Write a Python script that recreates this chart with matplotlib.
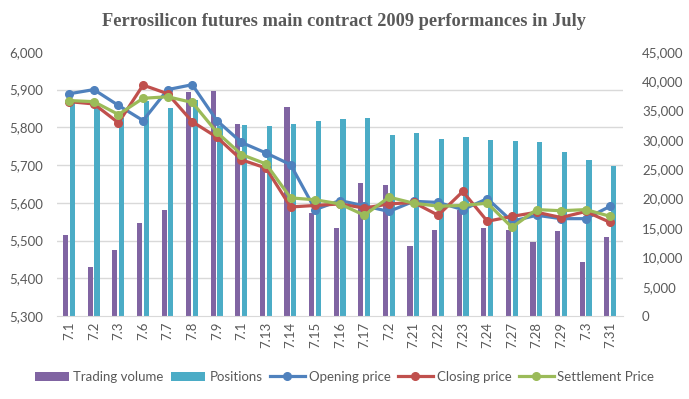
import numpy as np
import matplotlib
matplotlib.use("Agg")
import matplotlib.pyplot as plt
from matplotlib.ticker import FuncFormatter

# === Data ===
dates = ["7.1", "7.2", "7.3", "7.6", "7.7", "7.8", "7.9", "7.1", "7.13", "7.14", "7.15", "7.16",
         "7.17", "7.2", "7.21", "7.22", "7.23", "7.24", "7.27", "7.28", "7.29", "7.3", "7.31"]
volume = [13860, 8410, 11300, 15900, 18100, 38240, 38400, 32780, 25800, 35680, 17500, 15060,
          22730, 22390, 11990, 14720, 18000, 15060, 14720, 12670, 14550, 9260, 13520]
positions = [36300, 35740, 33750, 36590, 35510, 36880, 32330, 32610, 32440, 32780, 33300, 33640,
             33810, 30910, 31250, 30230, 30570, 30070, 29890, 29720, 28010, 26650, 25630]
opening = [5889, 5900, 5858, 5818, 5900, 5913, 5818, 5760, 5732, 5701, 5582, 5606,
           5592, 5577, 5604, 5601, 5582, 5611, 5551, 5567, 5558, 5558, 5591]
closing = [5868, 5862, 5812, 5912, 5889, 5815, 5774, 5714, 5692, 5589, 5593, 5597,
           5586, 5597, 5601, 5567, 5630, 5551, 5564, 5575, 5561, 5577, 5548]
settlement = [5871, 5868, 5834, 5877, 5881, 5866, 5787, 5728, 5703, 5613, 5608, 5597,
              5567, 5615, 5599, 5591, 5593, 5599, 5535, 5582, 5579, 5582, 5564]

c_vol, c_pos = "#8064A2", "#4BACC6"
c_open, c_close, c_settle = "#4F81BD", "#C0504D", "#9BBB59"
txt = "#595959"

plt.rcParams["font.family"] = ["Lato", "DejaVu Sans"]

fig = plt.figure(figsize=(6.89, 3.99), dpi=100)
ax = fig.add_axes([0.0827, 0.208, 0.821, 0.662])  # bars, right scale
ax2 = ax.twinx()  # prices, left scale

x = np.arange(len(dates))
w = 0.21
ax.bar(x - 0.145, volume, w, color=c_vol, label="Trading volume", zorder=2)
ax.bar(x + 0.13, positions, w, color=c_pos, label="Positions", zorder=2)
ax.set_ylim(0, 45000)
ax.set_xlim(-0.5, len(dates) - 0.5)
ax.yaxis.tick_right()
ax.set_yticks(np.arange(0, 45001, 5000))
ax.yaxis.set_major_formatter(FuncFormatter(lambda v, p: f"{int(v):,}"))
# gridlines follow the price axis (7 intervals)
ax.set_yticks(np.linspace(0, 45000, 8), minor=True)
ax.grid(which="minor", axis="y", color="#D9D9D9", lw=1, zorder=0)
ax.set_axisbelow(True)

for name, vals, col in [("Opening price", opening, c_open),
                        ("Closing price", closing, c_close),
                        ("Settlement Price", settlement, c_settle)]:
    ax2.plot(x, vals, color=col, lw=2.3, marker="o", ms=5.5, label=name, zorder=3)
ax2.set_ylim(5300, 6000)
ax2.yaxis.tick_left()
ax2.set_yticks(np.arange(5300, 6001, 100))
ax2.yaxis.set_major_formatter(FuncFormatter(lambda v, p: f"{int(v):,}"))

ax.set_xticks(x)
ax.set_xticklabels(dates, rotation=90, va="top")

for a in (ax, ax2):
    for s in a.spines.values():
        s.set_visible(False)
    a.tick_params(length=0, colors=txt, labelsize=9.5)
ax.spines["bottom"].set_visible(True)
ax.spines["bottom"].set_color("#D9D9D9")
ax.tick_params(axis="y", which="both", length=0, pad=14)
ax2.tick_params(axis="y", pad=10)
ax.tick_params(axis="x", pad=4)

fig.text(0.5, 0.945, "Ferrosilicon futures main contract 2009 performances in July",
         ha="center", va="center", fontsize=13.2, fontweight="bold", color=txt,
         family="Liberation Serif")

h1, l1 = ax.get_legend_handles_labels()
h2, l2 = ax2.get_legend_handles_labels()
fig.legend(h1 + h2, l1 + l2, loc="center", bbox_to_anchor=(0.5, 0.055), ncol=5,
           frameon=False, fontsize=9.5, handlelength=2.6, handletextpad=0.3,
           columnspacing=0.6, labelcolor=txt)

fig.savefig("out.png", dpi=100)
